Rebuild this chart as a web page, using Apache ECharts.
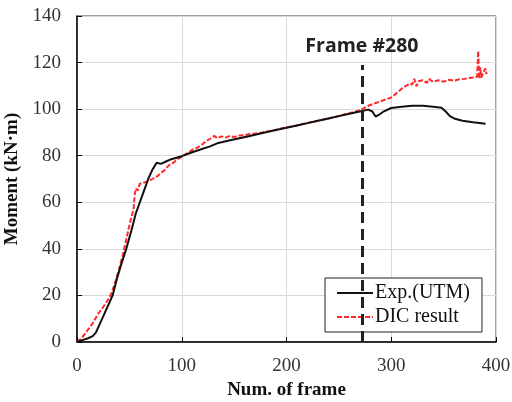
<!DOCTYPE html>
<html>
<head>
<meta charset="utf-8">
<script src="https://cdn.jsdelivr.net/npm/echarts@6/dist/echarts.min.js"></script>
<style>
  html, body { margin: 0; padding: 0; background: #fff; }
  #chart { width: 512px; height: 402px; }
</style>
</head>
<body>
<div id="chart"></div>
<script>
const expFrames = [0, 5, 10, 15, 18, 22, 26, 30, 34, 38, 42, 47, 52, 56, 60, 64, 68, 72, 76, 80, 85, 90, 100, 110, 120, 127, 135, 145, 155, 165, 175, 190, 200, 210, 220, 230, 240, 250, 260, 270, 278, 282, 285, 288, 292, 300, 310, 320, 330, 340, 348, 352, 356, 360, 368, 378, 390];
const expMoment = [0, 0.8, 1.5, 2.5, 4, 8, 12, 16, 20, 27, 33, 40, 48, 55, 60, 65, 70, 74, 77, 76.5, 77.5, 78.5, 79.8, 81.5, 83, 84, 85.5, 86.5, 87.5, 88.5, 89.5, 91, 92, 93, 94, 95, 96, 97, 98, 99, 99.8, 99, 96.8, 97.5, 98.8, 100.5, 101, 101.5, 101.5, 101, 100.6, 99, 97, 96, 95, 94.4, 93.7];

const dicFrames = [0, 5, 10, 15, 20, 25, 30, 33, 36, 40, 44, 48, 51, 54, 55, 56, 58, 60, 64, 68, 72, 76, 80, 84, 88, 92, 96, 100, 105, 110, 115, 120, 124, 128, 131, 134, 138, 142, 146, 150, 155, 160, 165, 170, 175, 180, 190, 200, 210, 220, 230, 240, 250, 260, 270, 280, 290, 300, 305, 310, 314, 318, 320, 322, 324, 326, 330, 334, 336, 340, 345, 350, 355, 360, 365, 370, 375, 380, 382, 383, 384, 385, 386, 388, 390, 391];
const dicMoment = [0, 2, 5, 8, 12, 15, 18.5, 21, 25, 31, 38, 46, 52, 57, 63, 66, 65, 68, 68.5, 69, 70, 71, 72.5, 74, 76, 77, 78.5, 79.5, 81, 82.5, 83.5, 85, 86.5, 87.5, 88.5, 87.5, 88.3, 87.8, 88.5, 88, 88.7, 88.8, 89.3, 89.5, 89.8, 90.3, 91.2, 92.2, 93, 94.1, 95, 96, 97.1, 98.2, 99.5, 101.8, 103.4, 105, 106.8, 108.8, 110, 111, 110.5, 113, 109.8, 112, 112.4, 111.3, 113, 111.7, 112.4, 111.8, 112.6, 112.2, 112.8, 113, 113.4, 113.6, 114, 125, 113, 118, 113.5, 116, 117.5, 115];

const xTicks = [0, 100, 200, 300, 400];
const yTicks = [0, 20, 40, 60, 80, 100, 120, 140];
const frameMarker = 272;
const frameMarkerTop = 119;
const frameLabel = 'Frame #280';

const pair = (xs, ys) => xs.map((x, i) => [x, ys[i]]);

const serif = '"Liberation Serif", "DejaVu Serif", serif';

const chart = echarts.init(document.getElementById('chart'));
chart.setOption({
    animation: false,
    grid: {
        left: 77, right: 16, top: 16, bottom: 60,
        outerBoundsMode: 'none',
        show: true, borderColor: '#444', borderWidth: 1
    },
    xAxis: {
        type: 'value',
        min: xTicks[0], max: xTicks[xTicks.length - 1], interval: 100,
        name: 'Num. of frame',
        nameLocation: 'middle',
        nameGap: 38,
        nameTextStyle: {fontFamily: serif, fontWeight: 'bold', fontSize: 19, color: '#111'},
        axisLine: {lineStyle: {color: '#000', width: 1.5}},
        axisTick: {inside: true, length: 5, lineStyle: {color: '#000'}},
        axisLabel: {fontFamily: serif, fontSize: 19, color: '#333', margin: 15},
        splitLine: {lineStyle: {color: '#d9d9d9', width: 1}}
    },
    yAxis: {
        type: 'value',
        min: yTicks[0], max: yTicks[yTicks.length - 1], interval: 20,
        name: 'Moment (kN·m)',
        nameLocation: 'middle',
        nameGap: 48,
        nameTextStyle: {fontFamily: serif, fontWeight: 'bold', fontSize: 19, color: '#111'},
        axisLine: {show: true, lineStyle: {color: '#000', width: 1.5}},
        axisTick: {show: true, inside: true, length: 5, lineStyle: {color: '#000'}},
        axisLabel: {fontFamily: serif, fontSize: 19, color: '#333', margin: 16},
        splitLine: {lineStyle: {color: '#d9d9d9', width: 1}}
    },
    legend: {
        orient: 'vertical',
        left: 325, top: 278,
        padding: [5, 12, 5, 11],
        itemGap: 4,
        itemWidth: 36, itemHeight: 14,
        borderColor: '#222', borderWidth: 1,
        backgroundColor: '#fff',
        itemStyle: {opacity: 0},
        textStyle: {fontFamily: serif, fontSize: 20, color: '#111', padding: [0, 0, 0, -3]},
        data: ['Exp.(UTM)', 'DIC result']
    },
    series: [
        {
            name: 'Exp.(UTM)',
            type: 'line',
            data: pair(expFrames, expMoment),
            symbol: 'none',
            lineStyle: {color: '#111', width: 2},
            itemStyle: {color: '#111'},
            z: 3
        },
        {
            name: 'DIC result',
            type: 'line',
            data: pair(dicFrames, dicMoment),
            symbol: 'none',
            lineStyle: {color: '#ff2a2a', width: 2, type: [5, 2]},
            itemStyle: {color: '#ff2a2a'},
            z: 2,
            markLine: {
                silent: true,
                symbol: 'none',
                lineStyle: {color: '#222', width: 3, type: [11, 6]},
                label: {
                    show: true,
                    position: 'end',
                    distance: 8,
                    formatter: frameLabel,
                    fontFamily: '"Open Sans", "Noto Sans", sans-serif',
                    fontWeight: 'bold',
                    fontSize: 19.5,
                    color: '#222'
                },
                data: [[{coord: [frameMarker, 0]}, {coord: [frameMarker, frameMarkerTop]}]]
            }
        }
    ]
});
</script>
</body>
</html>
